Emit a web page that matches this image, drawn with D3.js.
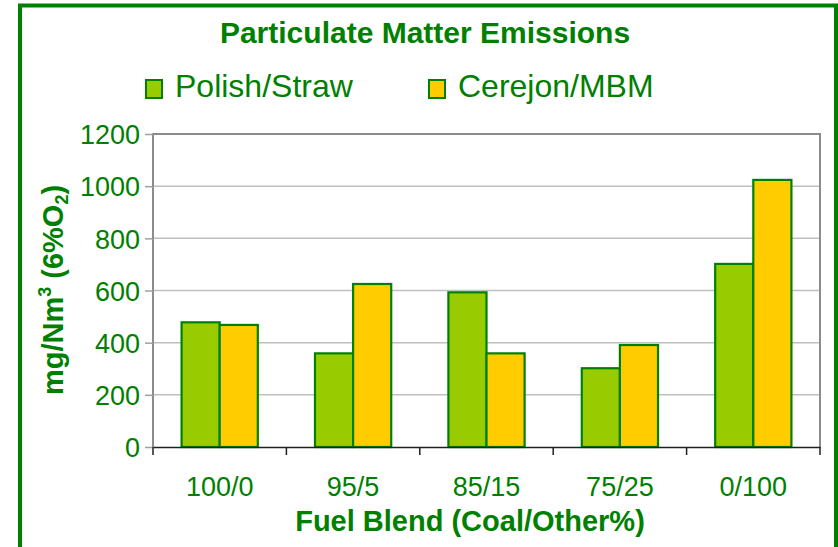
<!DOCTYPE html>
<html>
<head>
<meta charset="utf-8">
<script src="https://cdn.jsdelivr.net/npm/d3@7"></script>
<style>
  body { margin: 0; background: #fff; }
  svg { display: block; font-family: "Liberation Sans", Arial, sans-serif; }
  .grid-line { stroke: #c0c0c0; stroke-width: 1.5; }
  .y-axis text, .x-axis text { fill: #008000; }
</style>
</head>
<body>
<script>
const width = 838, height = 547;
const margin = {top: 134, right: 18, bottom: 100, left: 153};

const categories = ['100/0', '95/5', '85/15', '75/25', '0/100'];
const seriesNames = ['Polish/Straw', 'Cerejon/MBM'];
const polishStraw = [478, 359, 593, 302, 702];
const cerejonMbm = [468, 625, 359, 391, 1024];
const yTicks = [0, 200, 400, 600, 800, 1000, 1200];

const colors = ['#99cc00', '#ffcc00'];
const green = '#008000';

const svg = d3.select('body').append('svg')
    .attr('width', width)
    .attr('height', height);

// outer frame
svg.append('rect')
    .attr('x', 20).attr('y', 5.5)
    .attr('width', 816).attr('height', 560)
    .attr('fill', 'none')
    .attr('stroke', green)
    .attr('stroke-width', 4);

const plotW = width - margin.left - margin.right;
const plotH = height - margin.top - margin.bottom;

const x = d3.scaleBand().domain(categories).range([0, plotW]);
const x1 = d3.scaleBand().domain(seriesNames)
    .range([x.bandwidth() * 0.75 / 3.5, x.bandwidth() - x.bandwidth() * 0.75 / 3.5]);
const y = d3.scaleLinear().domain([0, 1200]).range([plotH, 0]);

const g = svg.append('g')
    .attr('transform', 'translate(' + margin.left + ',' + margin.top + ')');

// grid
g.selectAll('line.grid-line')
    .data(yTicks.slice(1, -1))
    .enter().append('line')
    .classed('grid-line', true)
    .attr('x1', 0).attr('x2', plotW)
    .attr('y1', d => y(d)).attr('y2', d => y(d));

// plot frame (top, left, right)
g.append('path')
    .attr('d', 'M0,' + plotH + 'V0H' + plotW + 'V' + plotH)
    .attr('fill', 'none')
    .attr('stroke', '#8c8c8c')
    .attr('stroke-width', 2);

// bars
const rows = categories.map((c, i) => ({cat: c, vals: [polishStraw[i], cerejonMbm[i]]}));
const groups = g.selectAll('g.bar-group')
    .data(rows)
    .enter().append('g')
    .attr('class', 'bar-group')
    .attr('transform', d => 'translate(' + x(d.cat) + ',0)');

groups.selectAll('rect')
    .data(d => d.vals.map((v, k) => ({name: seriesNames[k], v: v, k: k})))
    .enter().append('rect')
    .attr('x', d => x1(d.name))
    .attr('width', x1.bandwidth())
    .attr('y', d => y(d.v))
    .attr('height', d => plotH - y(d.v))
    .attr('fill', d => colors[d.k])
    .attr('stroke', green)
    .attr('stroke-width', 2.2);

// y axis
const yAxis = d3.axisLeft(y).tickValues(yTicks).tickFormat(d3.format('d')).tickSize(8).tickPadding(5);
const yg = g.append('g').attr('class', 'y-axis').call(yAxis);
yg.select('.domain').remove();
yg.selectAll('.tick line').attr('stroke', '#a0a0a0').attr('stroke-width', 1.5);
yg.selectAll('.tick text').attr('font-size', 27).attr('dy', '0.36em');

// x axis
const xAxis = d3.axisBottom(x).tickSize(0).tickPadding(30);
const xg = g.append('g').attr('class', 'x-axis')
    .attr('transform', 'translate(0,' + plotH + ')')
    .call(xAxis);
xg.select('.domain').attr('stroke', '#202020').attr('stroke-width', 1.6);
xg.selectAll('.tick text').attr('font-size', 27);
xg.selectAll('line.sep')
    .data(d3.range(categories.length + 1))
    .enter().append('line')
    .attr('class', 'sep')
    .attr('x1', i => i * x.step()).attr('x2', i => i * x.step())
    .attr('y1', 0).attr('y2', 8)
    .attr('stroke', '#202020').attr('stroke-width', 1.5);

// title
svg.append('text')
    .attr('x', 425).attr('y', 43)
    .attr('text-anchor', 'middle')
    .attr('font-size', 30).attr('font-weight', 'bold')
    .attr('fill', green)
    .text('Particulate Matter Emissions');

// legend
const legendX = [146, 429];
const legend = svg.selectAll('g.legend')
    .data(seriesNames)
    .enter().append('g')
    .attr('class', 'legend')
    .attr('transform', (d, i) => 'translate(' + legendX[i] + ',0)');
legend.append('rect')
    .attr('x', 0).attr('y', 80)
    .attr('width', 16).attr('height', 18)
    .attr('fill', (d, i) => colors[i])
    .attr('stroke', green).attr('stroke-width', 2);
legend.append('text')
    .attr('x', 29).attr('y', 97)
    .attr('font-size', 32)
    .attr('fill', green)
    .text(d => d);

// y axis title
const yt = svg.append('text')
    .attr('transform', 'translate(63,290) rotate(-90)')
    .attr('text-anchor', 'middle')
    .attr('font-size', 29).attr('font-weight', 'bold')
    .attr('fill', green);
yt.append('tspan').text('mg/Nm');
yt.append('tspan').attr('font-size', 18).attr('dy', -12).text('3');
yt.append('tspan').attr('dy', 12).text(' (6%O');
yt.append('tspan').attr('font-size', 18).attr('dy', 5).text('2');
yt.append('tspan').attr('dy', -5).text(')');

// x axis title
svg.append('text')
    .attr('x', 470).attr('y', 531)
    .attr('text-anchor', 'middle')
    .attr('font-size', 29).attr('font-weight', 'bold')
    .attr('fill', green)
    .text('Fuel Blend (Coal/Other%)');
</script>
</body>
</html>
